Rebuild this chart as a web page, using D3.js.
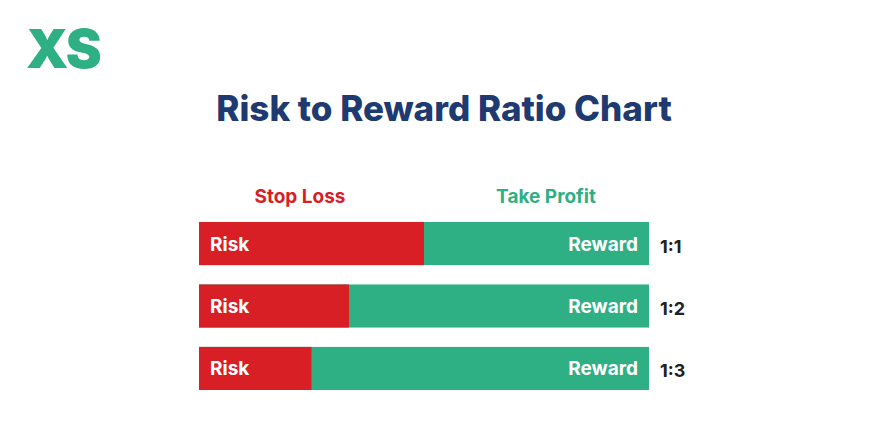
<!DOCTYPE html>
<html lang="en">
<head>
<meta charset="utf-8">
<script src="https://d3js.org/d3.v7.min.js"></script>
<style>
  body { margin: 0; background: #fff; }
  svg { display: block; font-family: 'Inter', 'Open Sans', sans-serif; }
</style>
</head>
<body>
<svg id="chart" width="888" height="447"></svg>
<script>
  const ratios = ["1:1", "1:2", "1:3"];
  const riskShare = [1, 1, 1];
  const rewardShare = [1, 2, 3];

  const red = "#d91f26", green = "#2faf84", navy = "#1f3a70";
  const svg = d3.select("#chart");

  // logo
  svg.append("text").attr("x", 26).attr("y", 68)
     .attr("fill", green).attr("font-size", 54).attr("font-weight", 900)
     .attr("letter-spacing", -2).text("XS");

  svg.append("text").attr("x", 444).attr("y", 121).attr("text-anchor", "middle")
     .attr("fill", navy).attr("font-size", 35).attr("font-weight", 800)
     .text("Risk to Reward Ratio Chart");

  const x = d3.scaleLinear().domain([0, 1]).range([199, 649]);
  const y = d3.scaleBand().domain(ratios).range([222, 390]).paddingInner(0.31).paddingOuter(0);

  svg.append("text").attr("x", 300).attr("y", 203).attr("text-anchor", "middle")
     .attr("fill", red).attr("font-size", 19).attr("font-weight", 700).text("Stop Loss");
  svg.append("text").attr("x", 546).attr("y", 203).attr("text-anchor", "middle")
     .attr("fill", green).attr("font-size", 19).attr("font-weight", 700).text("Take Profit");

  const rows = svg.selectAll("g.row").data(ratios).enter().append("g");
  rows.append("rect").attr("x", x(0)).attr("y", d => y(d))
      .attr("width", x(1) - x(0)).attr("height", y.bandwidth()).attr("fill", green);
  rows.append("rect").attr("x", x(0)).attr("y", d => y(d))
      .attr("width", (d, i) => x(riskShare[i] / (riskShare[i] + rewardShare[i])) - x(0))
      .attr("height", y.bandwidth()).attr("fill", red);
  rows.append("text").attr("x", x(0) + 11).attr("y", d => y(d) + y.bandwidth() / 2 + 7)
      .attr("fill", "#fff").attr("font-size", 19).attr("font-weight", 700).text("Risk");
  rows.append("text").attr("x", x(1) - 11).attr("y", d => y(d) + y.bandwidth() / 2 + 7)
      .attr("text-anchor", "end")
      .attr("fill", "#fff").attr("font-size", 19).attr("font-weight", 700).text("Reward");
  rows.append("text").attr("x", 660).attr("y", d => y(d) + y.bandwidth() / 2 + 9)
      .attr("fill", "#222").attr("font-size", 18).attr("font-weight", 700).text(d => d);
</script>
</body>
</html>
